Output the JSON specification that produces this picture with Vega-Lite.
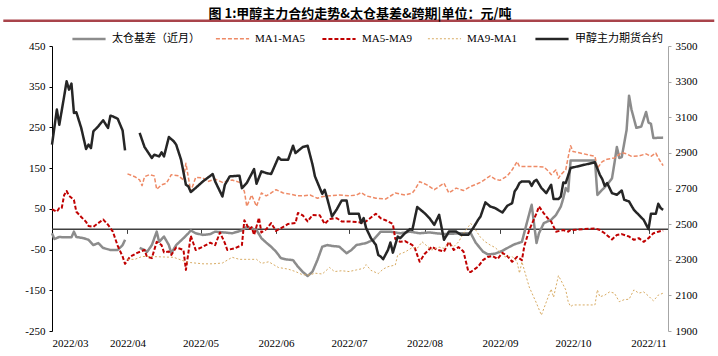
{
"$schema": "https://vega.github.io/schema/vega-lite/v6.json",
"width": 616, "height": 285,
"autosize": {"type": "none"},
"padding": {"left": 52, "top": 46, "right": 50, "bottom": 25},
"background": "white",
"title": {"text": "图 1:甲醇主力合约走势&太仓基差&跨期|单位：元/吨", "font": "Noto Sans CJK SC", "fontSize": 13, "fontWeight": "bold", "color": "#000000", "anchor": "middle", "offset": -1},
"config": {"view": {"stroke": null}, "font": "Liberation Serif, Noto Sans CJK SC",
  "axis": {"labelFont": "Liberation Serif, Noto Sans CJK SC", "labelFontSize": 11, "labelColor": "#000000", "grid": false, "title": null},
  "legend": {"labelFont": "Liberation Serif, Noto Sans CJK SC", "labelFontSize": 11, "labelColor": "#000000"}},
"datasets": {
"futures": [
{"date":"2022-03-01","series":"甲醇主力期货合约","value":2946},{"date":"2022-03-03","series":"甲醇主力期货合约","value":3143},{"date":"2022-03-04","series":"甲醇主力期货合约","value":3058},{"date":"2022-03-06","series":"甲醇主力期货合约","value":3218},{"date":"2022-03-07","series":"甲醇主力期货合约","value":3302},{"date":"2022-03-08","series":"甲醇主力期货合约","value":3255},{"date":"2022-03-09","series":"甲醇主力期货合约","value":3289},{"date":"2022-03-10","series":"甲醇主力期货合约","value":3124},{"date":"2022-03-11","series":"甲醇主力期货合约","value":3128},{"date":"2022-03-13","series":"甲醇主力期货合约","value":3040},{"date":"2022-03-15","series":"甲醇主力期货合约","value":2922},{"date":"2022-03-16","series":"甲醇主力期货合约","value":2946},{"date":"2022-03-17","series":"甲醇主力期货合约","value":2927},{"date":"2022-03-18","series":"甲醇主力期货合约","value":3021},{"date":"2022-03-20","series":"甲醇主力期货合约","value":3049},{"date":"2022-03-22","series":"甲醇主力期货合约","value":3083},{"date":"2022-03-24","series":"甲醇主力期货合约","value":3040},{"date":"2022-03-25","series":"甲醇主力期货合约","value":3109},{"date":"2022-03-26","series":"甲醇主力期货合约","value":3105},{"date":"2022-03-28","series":"甲醇主力期货合约","value":3091},{"date":"2022-03-30","series":"甲醇主力期货合约","value":3026},{"date":"2022-03-31","series":"甲醇主力期货合约","value":2914},{"date":"2022-04-03","series":"甲醇主力期货合约","value":null},
{"date":"2022-04-06","series":"甲醇主力期货合约","value":3012},{"date":"2022-04-08","series":"甲醇主力期货合约","value":2933},{"date":"2022-04-11","series":"甲醇主力期货合约","value":2871},{"date":"2022-04-12","series":"甲醇主力期货合约","value":2890},{"date":"2022-04-14","series":"甲醇主力期货合约","value":2880},{"date":"2022-04-15","series":"甲醇主力期货合约","value":2903},{"date":"2022-04-16","series":"甲醇主力期货合约","value":2880},{"date":"2022-04-18","series":"甲醇主力期货合约","value":2989},{"date":"2022-04-20","series":"甲醇主力期货合约","value":2965},{"date":"2022-04-21","series":"甲醇主力期货合约","value":2946},{"date":"2022-04-23","series":"甲醇主力期货合约","value":2862},{"date":"2022-04-25","series":"甲醇主力期货合约","value":2721},{"date":"2022-04-26","series":"甲醇主力期货合约","value":2712},{"date":"2022-04-27","series":"甲醇主力期货合约","value":2680},{"date":"2022-04-29","series":"甲醇主力期货合约","value":2703},{"date":"2022-05-02","series":"甲醇主力期货合约","value":2740},{"date":"2022-05-06","series":"甲醇主力期货合约","value":2781},{"date":"2022-05-07","series":"甲醇主力期货合约","value":2740},{"date":"2022-05-10","series":"甲醇主力期货合约","value":2655},{"date":"2022-05-11","series":"甲醇主力期货合约","value":2721},{"date":"2022-05-13","series":"甲醇主力期货合约","value":2768},{"date":"2022-05-17","series":"甲醇主力期货合约","value":2772},{"date":"2022-05-18","series":"甲醇主力期货合约","value":2702},{"date":"2022-05-20","series":"甲醇主力期货合约","value":2731},{"date":"2022-05-23","series":"甲醇主力期货合约","value":2809},{"date":"2022-05-24","series":"甲醇主力期货合约","value":2727},{"date":"2022-05-26","series":"甲醇主力期货合约","value":2796},{"date":"2022-05-28","series":"甲醇主力期货合约","value":2787},{"date":"2022-05-30","series":"甲醇主力期货合约","value":2781},{"date":"2022-06-02","series":"甲醇主力期货合约","value":2875},{"date":"2022-06-03","series":"甲醇主力期货合约","value":2862},{"date":"2022-06-06","series":"甲醇主力期货合约","value":2862},{"date":"2022-06-08","series":"甲醇主力期货合约","value":2940},{"date":"2022-06-09","series":"甲醇主力期货合约","value":2899},{"date":"2022-06-12","series":"甲醇主力期货合约","value":2933},{"date":"2022-06-14","series":"甲醇主力期货合约","value":2940},{"date":"2022-06-16","series":"甲醇主力期货合约","value":2834},{"date":"2022-06-17","series":"甲醇主力期货合约","value":2768},{"date":"2022-06-19","series":"甲醇主力期货合约","value":2702},{"date":"2022-06-20","series":"甲醇主力期货合约","value":2670},{"date":"2022-06-21","series":"甲醇主力期货合约","value":2693},{"date":"2022-06-22","series":"甲醇主力期货合约","value":2646},{"date":"2022-06-24","series":"甲醇主力期货合约","value":2543},{"date":"2022-06-26","series":"甲醇主力期货合约","value":2584},{"date":"2022-06-28","series":"甲醇主力期货合约","value":2633},{"date":"2022-06-30","series":"甲醇主力期货合约","value":2633},{"date":"2022-07-01","series":"甲醇主力期货合约","value":2558},{"date":"2022-07-05","series":"甲醇主力期货合约","value":2558},{"date":"2022-07-06","series":"甲醇主力期货合约","value":2506},{"date":"2022-07-07","series":"甲醇主力期货合约","value":2534},{"date":"2022-07-08","series":"甲醇主力期货合约","value":2478},{"date":"2022-07-10","series":"甲醇主力期货合约","value":2421},{"date":"2022-07-12","series":"甲醇主力期货合约","value":2384},{"date":"2022-07-13","series":"甲醇主力期货合约","value":2327},{"date":"2022-07-14","series":"甲醇主力期货合约","value":2318},{"date":"2022-07-15","series":"甲醇主力期货合约","value":2303},{"date":"2022-07-17","series":"甲醇主力期货合约","value":2355},{"date":"2022-07-18","series":"甲醇主力期货合约","value":2397},{"date":"2022-07-19","series":"甲醇主力期货合约","value":2340},{"date":"2022-07-21","series":"甲醇主力期货合约","value":2430},{"date":"2022-07-22","series":"甲醇主力期货合约","value":2421},{"date":"2022-07-24","series":"甲醇主力期货合约","value":2449},{"date":"2022-07-26","series":"甲醇主力期货合约","value":2472},{"date":"2022-07-27","series":"甲醇主力期货合约","value":2468},{"date":"2022-07-29","series":"甲醇主力期货合约","value":2596},{"date":"2022-08-01","series":"甲醇主力期货合约","value":2562},{"date":"2022-08-03","series":"甲醇主力期货合约","value":2534},{"date":"2022-08-05","series":"甲醇主力期货合约","value":2496},{"date":"2022-08-07","series":"甲醇主力期货合约","value":2552},{"date":"2022-08-09","series":"甲醇主力期货合约","value":2412},{"date":"2022-08-11","series":"甲醇主力期货合约","value":2458},{"date":"2022-08-14","series":"甲醇主力期货合约","value":2458},{"date":"2022-08-16","series":"甲醇主力期货合约","value":2440},{"date":"2022-08-19","series":"甲醇主力期货合约","value":2440},{"date":"2022-08-21","series":"甲醇主力期货合约","value":2478},{"date":"2022-08-23","series":"甲醇主力期货合约","value":2524},{"date":"2022-08-24","series":"甲醇主力期货合约","value":2543},{"date":"2022-08-26","series":"甲醇主力期货合约","value":2622},{"date":"2022-08-28","series":"甲醇主力期货合约","value":2599},{"date":"2022-08-30","series":"甲醇主力期货合约","value":2590},{"date":"2022-09-02","series":"甲醇主力期货合约","value":2565},{"date":"2022-09-04","series":"甲醇主力期货合约","value":2603},{"date":"2022-09-06","series":"甲醇主力期货合约","value":2618},{"date":"2022-09-07","series":"甲醇主力期货合约","value":2683},{"date":"2022-09-08","series":"甲醇主力期货合约","value":2703},{"date":"2022-09-09","series":"甲醇主力期货合约","value":2731},{"date":"2022-09-10","series":"甲醇主力期货合约","value":2740},{"date":"2022-09-13","series":"甲醇主力期货合约","value":2740},{"date":"2022-09-14","series":"甲醇主力期货合约","value":2715},{"date":"2022-09-15","series":"甲醇主力期货合约","value":2740},{"date":"2022-09-16","series":"甲醇主力期货合约","value":2749},{"date":"2022-09-18","series":"甲醇主力期货合约","value":2703},{"date":"2022-09-20","series":"甲醇主力期货合约","value":2674},{"date":"2022-09-22","series":"甲醇主力期货合约","value":2721},{"date":"2022-09-23","series":"甲醇主力期货合约","value":2641},{"date":"2022-09-25","series":"甲醇主力期货合约","value":2641},{"date":"2022-09-26","series":"甲醇主力期货合约","value":2655},{"date":"2022-09-27","series":"甲醇主力期货合约","value":2734},{"date":"2022-09-28","series":"甲醇主力期货合约","value":2731},{"date":"2022-09-30","series":"甲醇主力期货合约","value":2815},{"date":"2022-10-10","series":"甲醇主力期货合约","value":2847},{"date":"2022-10-12","series":"甲醇主力期货合约","value":2777},{"date":"2022-10-13","series":"甲醇主力期货合约","value":2753},{"date":"2022-10-14","series":"甲醇主力期货合约","value":2715},{"date":"2022-10-15","series":"甲醇主力期货合约","value":2731},{"date":"2022-10-17","series":"甲醇主力期货合约","value":2674},{"date":"2022-10-19","series":"甲醇主力期货合约","value":2665},{"date":"2022-10-21","series":"甲醇主力期货合约","value":2689},{"date":"2022-10-22","series":"甲醇主力期货合约","value":2637},{"date":"2022-10-24","series":"甲醇主力期货合约","value":2627},{"date":"2022-10-26","series":"甲醇主力期货合约","value":2580},{"date":"2022-10-28","series":"甲醇主力期货合约","value":2552},{"date":"2022-10-30","series":"甲醇主力期货合约","value":2524},{"date":"2022-11-01","series":"甲醇主力期货合约","value":2472},{"date":"2022-11-02","series":"甲醇主力期货合约","value":2558},{"date":"2022-11-04","series":"甲醇主力期货合约","value":2558},{"date":"2022-11-05","series":"甲醇主力期货合约","value":2614},{"date":"2022-11-06","series":"甲醇主力期货合约","value":2590},{"date":"2022-11-07","series":"甲醇主力期货合约","value":2580}
],
"spreads": [
{"date":"2022-03-01","series":"太仓基差（近月）","value":-10},{"date":"2022-03-02","series":"太仓基差（近月）","value":-24},{"date":"2022-03-04","series":"太仓基差（近月）","value":-19},{"date":"2022-03-06","series":"太仓基差（近月）","value":-20},{"date":"2022-03-09","series":"太仓基差（近月）","value":-20},{"date":"2022-03-10","series":"太仓基差（近月）","value":-6},{"date":"2022-03-11","series":"太仓基差（近月）","value":-19},{"date":"2022-03-14","series":"太仓基差（近月）","value":-22},{"date":"2022-03-16","series":"太仓基差（近月）","value":-26},{"date":"2022-03-18","series":"太仓基差（近月）","value":-39},{"date":"2022-03-20","series":"太仓基差（近月）","value":-34},{"date":"2022-03-22","series":"太仓基差（近月）","value":-46},{"date":"2022-03-25","series":"太仓基差（近月）","value":-51},{"date":"2022-03-28","series":"太仓基差（近月）","value":-51},{"date":"2022-03-30","series":"太仓基差（近月）","value":-39},{"date":"2022-03-31","series":"太仓基差（近月）","value":-26},{"date":"2022-04-03","series":"太仓基差（近月）","value":null},
{"date":"2022-04-06","series":"太仓基差（近月）","value":-46},{"date":"2022-04-08","series":"太仓基差（近月）","value":-51},{"date":"2022-04-09","series":"太仓基差（近月）","value":-56},{"date":"2022-04-11","series":"太仓基差（近月）","value":-39},{"date":"2022-04-13","series":"太仓基差（近月）","value":-6},{"date":"2022-04-14","series":"太仓基差（近月）","value":-31},{"date":"2022-04-16","series":"太仓基差（近月）","value":-18},{"date":"2022-04-18","series":"太仓基差（近月）","value":-39},{"date":"2022-04-19","series":"太仓基差（近月）","value":-59},{"date":"2022-04-21","series":"太仓基差（近月）","value":-39},{"date":"2022-04-24","series":"太仓基差（近月）","value":-22},{"date":"2022-04-26","series":"太仓基差（近月）","value":-10},{"date":"2022-04-27","series":"太仓基差（近月）","value":-3},{"date":"2022-04-29","series":"太仓基差（近月）","value":-10},{"date":"2022-05-02","series":"太仓基差（近月）","value":-14},{"date":"2022-05-05","series":"太仓基差（近月）","value":-12},{"date":"2022-05-07","series":"太仓基差（近月）","value":-6},{"date":"2022-05-11","series":"太仓基差（近月）","value":-8},{"date":"2022-05-14","series":"太仓基差（近月）","value":-10},{"date":"2022-05-18","series":"太仓基差（近月）","value":-3},{"date":"2022-05-20","series":"太仓基差（近月）","value":6},{"date":"2022-05-22","series":"太仓基差（近月）","value":2},{"date":"2022-05-24","series":"太仓基差（近月）","value":-2},{"date":"2022-05-26","series":"太仓基差（近月）","value":-22},{"date":"2022-05-28","series":"太仓基差（近月）","value":-33},{"date":"2022-05-30","series":"太仓基差（近月）","value":-43},{"date":"2022-06-01","series":"太仓基差（近月）","value":-55},{"date":"2022-06-03","series":"太仓基差（近月）","value":-71},{"date":"2022-06-05","series":"太仓基差（近月）","value":-74},{"date":"2022-06-08","series":"太仓基差（近月）","value":-76},{"date":"2022-06-10","series":"太仓基差（近月）","value":-92},{"date":"2022-06-12","series":"太仓基差（近月）","value":-105},{"date":"2022-06-14","series":"太仓基差（近月）","value":-115},{"date":"2022-06-16","series":"太仓基差（近月）","value":-104},{"date":"2022-06-18","series":"太仓基差（近月）","value":-76},{"date":"2022-06-20","series":"太仓基差（近月）","value":-43},{"date":"2022-06-22","series":"太仓基差（近月）","value":-39},{"date":"2022-06-24","series":"太仓基差（近月）","value":-41},{"date":"2022-06-27","series":"太仓基差（近月）","value":-43},{"date":"2022-06-30","series":"太仓基差（近月）","value":-59},{"date":"2022-07-02","series":"太仓基差（近月）","value":-51},{"date":"2022-07-04","series":"太仓基差（近月）","value":-39},{"date":"2022-07-08","series":"太仓基差（近月）","value":-34},{"date":"2022-07-11","series":"太仓基差（近月）","value":-26},{"date":"2022-07-14","series":"太仓基差（近月）","value":-6},{"date":"2022-07-18","series":"太仓基差（近月）","value":-6},{"date":"2022-07-22","series":"太仓基差（近月）","value":-10},{"date":"2022-07-26","series":"太仓基差（近月）","value":-6},{"date":"2022-07-30","series":"太仓基差（近月）","value":-10},{"date":"2022-08-03","series":"太仓基差（近月）","value":-8},{"date":"2022-08-09","series":"太仓基差（近月）","value":-12},{"date":"2022-08-16","series":"太仓基差（近月）","value":-10},{"date":"2022-08-20","series":"太仓基差（近月）","value":-10},{"date":"2022-08-22","series":"太仓基差（近月）","value":-33},{"date":"2022-08-25","series":"太仓基差（近月）","value":-55},{"date":"2022-08-27","series":"太仓基差（近月）","value":-62},{"date":"2022-08-30","series":"太仓基差（近月）","value":-60},{"date":"2022-09-02","series":"太仓基差（近月）","value":-53},{"date":"2022-09-05","series":"太仓基差（近月）","value":-43},{"date":"2022-09-07","series":"太仓基差（近月）","value":-37},{"date":"2022-09-10","series":"太仓基差（近月）","value":-31},{"date":"2022-09-12","series":"太仓基差（近月）","value":15},{"date":"2022-09-14","series":"太仓基差（近月）","value":60},{"date":"2022-09-16","series":"太仓基差（近月）","value":-34},{"date":"2022-09-17","series":"太仓基差（近月）","value":-10},{"date":"2022-09-19","series":"太仓基差（近月）","value":15},{"date":"2022-09-22","series":"太仓基差（近月）","value":23},{"date":"2022-09-24","series":"太仓基差（近月）","value":35},{"date":"2022-09-26","series":"太仓基差（近月）","value":56},{"date":"2022-09-27","series":"太仓基差（近月）","value":76},{"date":"2022-09-28","series":"太仓基差（近月）","value":101},{"date":"2022-09-29","series":"太仓基差（近月）","value":93},{"date":"2022-09-30","series":"太仓基差（近月）","value":169},{"date":"2022-10-10","series":"太仓基差（近月）","value":169},{"date":"2022-10-11","series":"太仓基差（近月）","value":84},{"date":"2022-10-13","series":"太仓基差（近月）","value":97},{"date":"2022-10-15","series":"太仓基差（近月）","value":109},{"date":"2022-10-17","series":"太仓基差（近月）","value":125},{"date":"2022-10-18","series":"太仓基差（近月）","value":162},{"date":"2022-10-19","series":"太仓基差（近月）","value":202},{"date":"2022-10-20","series":"太仓基差（近月）","value":175},{"date":"2022-10-21","series":"太仓基差（近月）","value":177},{"date":"2022-10-23","series":"太仓基差（近月）","value":244},{"date":"2022-10-24","series":"太仓基差（近月）","value":328},{"date":"2022-10-25","series":"太仓基差（近月）","value":294},{"date":"2022-10-27","series":"太仓基差（近月）","value":249},{"date":"2022-10-29","series":"太仓基差（近月）","value":252},{"date":"2022-10-31","series":"太仓基差（近月）","value":288},{"date":"2022-11-01","series":"太仓基差（近月）","value":262},{"date":"2022-11-02","series":"太仓基差（近月）","value":259},{"date":"2022-11-03","series":"太仓基差（近月）","value":224},{"date":"2022-11-07","series":"太仓基差（近月）","value":225},
{"date":"2022-04-01","series":"MA1-MA5","value":136},{"date":"2022-04-04","series":"MA1-MA5","value":129},{"date":"2022-04-06","series":"MA1-MA5","value":121},{"date":"2022-04-07","series":"MA1-MA5","value":107},{"date":"2022-04-08","series":"MA1-MA5","value":129},{"date":"2022-04-10","series":"MA1-MA5","value":134},{"date":"2022-04-12","series":"MA1-MA5","value":131},{"date":"2022-04-13","series":"MA1-MA5","value":98},{"date":"2022-04-15","series":"MA1-MA5","value":109},{"date":"2022-04-17","series":"MA1-MA5","value":113},{"date":"2022-04-19","series":"MA1-MA5","value":134},{"date":"2022-04-22","series":"MA1-MA5","value":131},{"date":"2022-04-24","series":"MA1-MA5","value":121},{"date":"2022-04-25","series":"MA1-MA5","value":162},{"date":"2022-04-27","series":"MA1-MA5","value":93},{"date":"2022-04-29","series":"MA1-MA5","value":127},{"date":"2022-05-02","series":"MA1-MA5","value":126},{"date":"2022-05-04","series":"MA1-MA5","value":117},{"date":"2022-05-07","series":"MA1-MA5","value":123},{"date":"2022-05-10","series":"MA1-MA5","value":115},{"date":"2022-05-14","series":"MA1-MA5","value":121},{"date":"2022-05-17","series":"MA1-MA5","value":115},{"date":"2022-05-19","series":"MA1-MA5","value":93},{"date":"2022-05-20","series":"MA1-MA5","value":56},{"date":"2022-05-22","series":"MA1-MA5","value":84},{"date":"2022-05-24","series":"MA1-MA5","value":56},{"date":"2022-05-26","series":"MA1-MA5","value":89},{"date":"2022-05-28","series":"MA1-MA5","value":82},{"date":"2022-05-30","series":"MA1-MA5","value":89},{"date":"2022-06-01","series":"MA1-MA5","value":97},{"date":"2022-06-04","series":"MA1-MA5","value":89},{"date":"2022-06-07","series":"MA1-MA5","value":86},{"date":"2022-06-10","series":"MA1-MA5","value":82},{"date":"2022-06-12","series":"MA1-MA5","value":82},{"date":"2022-06-15","series":"MA1-MA5","value":84},{"date":"2022-06-18","series":"MA1-MA5","value":76},{"date":"2022-06-20","series":"MA1-MA5","value":80},{"date":"2022-06-23","series":"MA1-MA5","value":82},{"date":"2022-06-27","series":"MA1-MA5","value":84},{"date":"2022-07-01","series":"MA1-MA5","value":82},{"date":"2022-07-04","series":"MA1-MA5","value":84},{"date":"2022-07-06","series":"MA1-MA5","value":90},{"date":"2022-07-08","series":"MA1-MA5","value":82},{"date":"2022-07-12","series":"MA1-MA5","value":76},{"date":"2022-07-16","series":"MA1-MA5","value":74},{"date":"2022-07-20","series":"MA1-MA5","value":89},{"date":"2022-07-24","series":"MA1-MA5","value":84},{"date":"2022-07-27","series":"MA1-MA5","value":89},{"date":"2022-07-28","series":"MA1-MA5","value":97},{"date":"2022-07-30","series":"MA1-MA5","value":117},{"date":"2022-08-02","series":"MA1-MA5","value":109},{"date":"2022-08-05","series":"MA1-MA5","value":97},{"date":"2022-08-07","series":"MA1-MA5","value":105},{"date":"2022-08-09","series":"MA1-MA5","value":113},{"date":"2022-08-11","series":"MA1-MA5","value":89},{"date":"2022-08-14","series":"MA1-MA5","value":101},{"date":"2022-08-17","series":"MA1-MA5","value":95},{"date":"2022-08-20","series":"MA1-MA5","value":105},{"date":"2022-08-24","series":"MA1-MA5","value":115},{"date":"2022-08-28","series":"MA1-MA5","value":131},{"date":"2022-08-30","series":"MA1-MA5","value":123},{"date":"2022-09-01","series":"MA1-MA5","value":120},{"date":"2022-09-04","series":"MA1-MA5","value":131},{"date":"2022-09-06","series":"MA1-MA5","value":146},{"date":"2022-09-08","series":"MA1-MA5","value":166},{"date":"2022-09-09","series":"MA1-MA5","value":154},{"date":"2022-09-12","series":"MA1-MA5","value":154},{"date":"2022-09-16","series":"MA1-MA5","value":154},{"date":"2022-09-19","series":"MA1-MA5","value":153},{"date":"2022-09-21","series":"MA1-MA5","value":142},{"date":"2022-09-22","series":"MA1-MA5","value":134},{"date":"2022-09-24","series":"MA1-MA5","value":146},{"date":"2022-09-25","series":"MA1-MA5","value":125},{"date":"2022-09-26","series":"MA1-MA5","value":134},{"date":"2022-09-28","series":"MA1-MA5","value":146},{"date":"2022-09-29","series":"MA1-MA5","value":177},{"date":"2022-09-30","series":"MA1-MA5","value":205},{"date":"2022-10-01","series":"MA1-MA5","value":191},{"date":"2022-10-10","series":"MA1-MA5","value":179},{"date":"2022-10-11","series":"MA1-MA5","value":150},{"date":"2022-10-13","series":"MA1-MA5","value":166},{"date":"2022-10-15","series":"MA1-MA5","value":172},{"date":"2022-10-18","series":"MA1-MA5","value":175},{"date":"2022-10-21","series":"MA1-MA5","value":188},{"date":"2022-10-23","series":"MA1-MA5","value":185},{"date":"2022-10-25","series":"MA1-MA5","value":179},{"date":"2022-10-28","series":"MA1-MA5","value":180},{"date":"2022-10-31","series":"MA1-MA5","value":185},{"date":"2022-11-02","series":"MA1-MA5","value":179},{"date":"2022-11-04","series":"MA1-MA5","value":187},{"date":"2022-11-05","series":"MA1-MA5","value":175},{"date":"2022-11-07","series":"MA1-MA5","value":156},
{"date":"2022-03-01","series":"MA5-MA9","value":49},{"date":"2022-03-03","series":"MA5-MA9","value":43},{"date":"2022-03-04","series":"MA5-MA9","value":52},{"date":"2022-03-05","series":"MA5-MA9","value":52},{"date":"2022-03-06","series":"MA5-MA9","value":84},{"date":"2022-03-07","series":"MA5-MA9","value":94},{"date":"2022-03-08","series":"MA5-MA9","value":82},{"date":"2022-03-10","series":"MA5-MA9","value":72},{"date":"2022-03-11","series":"MA5-MA9","value":43},{"date":"2022-03-13","series":"MA5-MA9","value":30},{"date":"2022-03-15","series":"MA5-MA9","value":18},{"date":"2022-03-16","series":"MA5-MA9","value":8},{"date":"2022-03-18","series":"MA5-MA9","value":6},{"date":"2022-03-20","series":"MA5-MA9","value":15},{"date":"2022-03-22","series":"MA5-MA9","value":24},{"date":"2022-03-24","series":"MA5-MA9","value":11},{"date":"2022-03-26","series":"MA5-MA9","value":-6},{"date":"2022-03-28","series":"MA5-MA9","value":-41},{"date":"2022-03-30","series":"MA5-MA9","value":-67},{"date":"2022-03-31","series":"MA5-MA9","value":-85},{"date":"2022-04-02","series":"MA5-MA9","value":-68},{"date":"2022-04-05","series":"MA5-MA9","value":-58},{"date":"2022-04-08","series":"MA5-MA9","value":-51},{"date":"2022-04-09","series":"MA5-MA9","value":-68},{"date":"2022-04-11","series":"MA5-MA9","value":-71},{"date":"2022-04-13","series":"MA5-MA9","value":-31},{"date":"2022-04-15","series":"MA5-MA9","value":-39},{"date":"2022-04-16","series":"MA5-MA9","value":-57},{"date":"2022-04-18","series":"MA5-MA9","value":-55},{"date":"2022-04-19","series":"MA5-MA9","value":-63},{"date":"2022-04-21","series":"MA5-MA9","value":-45},{"date":"2022-04-24","series":"MA5-MA9","value":-51},{"date":"2022-04-25","series":"MA5-MA9","value":-100},{"date":"2022-04-27","series":"MA5-MA9","value":-16},{"date":"2022-04-29","series":"MA5-MA9","value":-51},{"date":"2022-05-02","series":"MA5-MA9","value":-43},{"date":"2022-05-05","series":"MA5-MA9","value":-33},{"date":"2022-05-07","series":"MA5-MA9","value":-39},{"date":"2022-05-09","series":"MA5-MA9","value":-8},{"date":"2022-05-11","series":"MA5-MA9","value":-34},{"date":"2022-05-12","series":"MA5-MA9","value":-51},{"date":"2022-05-15","series":"MA5-MA9","value":-47},{"date":"2022-05-18","series":"MA5-MA9","value":-39},{"date":"2022-05-19","series":"MA5-MA9","value":22},{"date":"2022-05-21","series":"MA5-MA9","value":0},{"date":"2022-05-22","series":"MA5-MA9","value":5},{"date":"2022-05-23","series":"MA5-MA9","value":-14},{"date":"2022-05-25","series":"MA5-MA9","value":28},{"date":"2022-05-26","series":"MA5-MA9","value":-8},{"date":"2022-05-28","series":"MA5-MA9","value":0},{"date":"2022-05-30","series":"MA5-MA9","value":15},{"date":"2022-06-01","series":"MA5-MA9","value":-4},{"date":"2022-06-04","series":"MA5-MA9","value":6},{"date":"2022-06-06","series":"MA5-MA9","value":13},{"date":"2022-06-09","series":"MA5-MA9","value":15},{"date":"2022-06-10","series":"MA5-MA9","value":40},{"date":"2022-06-12","series":"MA5-MA9","value":34},{"date":"2022-06-14","series":"MA5-MA9","value":19},{"date":"2022-06-16","series":"MA5-MA9","value":35},{"date":"2022-06-19","series":"MA5-MA9","value":34},{"date":"2022-06-21","series":"MA5-MA9","value":13},{"date":"2022-06-23","series":"MA5-MA9","value":25},{"date":"2022-06-26","series":"MA5-MA9","value":27},{"date":"2022-06-28","series":"MA5-MA9","value":19},{"date":"2022-07-01","series":"MA5-MA9","value":19},{"date":"2022-07-05","series":"MA5-MA9","value":17},{"date":"2022-07-07","series":"MA5-MA9","value":15},{"date":"2022-07-09","series":"MA5-MA9","value":24},{"date":"2022-07-12","series":"MA5-MA9","value":38},{"date":"2022-07-14","series":"MA5-MA9","value":27},{"date":"2022-07-16","series":"MA5-MA9","value":22},{"date":"2022-07-19","series":"MA5-MA9","value":13},{"date":"2022-07-20","series":"MA5-MA9","value":-24},{"date":"2022-07-22","series":"MA5-MA9","value":-31},{"date":"2022-07-24","series":"MA5-MA9","value":-29},{"date":"2022-07-27","series":"MA5-MA9","value":-39},{"date":"2022-07-28","series":"MA5-MA9","value":-46},{"date":"2022-07-30","series":"MA5-MA9","value":-80},{"date":"2022-08-01","series":"MA5-MA9","value":-61},{"date":"2022-08-04","series":"MA5-MA9","value":-43},{"date":"2022-08-06","series":"MA5-MA9","value":-50},{"date":"2022-08-09","series":"MA5-MA9","value":-55},{"date":"2022-08-11","series":"MA5-MA9","value":-31},{"date":"2022-08-13","series":"MA5-MA9","value":-51},{"date":"2022-08-15","series":"MA5-MA9","value":-44},{"date":"2022-08-17","series":"MA5-MA9","value":-55},{"date":"2022-08-19","series":"MA5-MA9","value":-104},{"date":"2022-08-20","series":"MA5-MA9","value":-105},{"date":"2022-08-23","series":"MA5-MA9","value":-92},{"date":"2022-08-25","series":"MA5-MA9","value":-76},{"date":"2022-08-27","series":"MA5-MA9","value":-68},{"date":"2022-08-29","series":"MA5-MA9","value":-66},{"date":"2022-08-31","series":"MA5-MA9","value":-73},{"date":"2022-09-02","series":"MA5-MA9","value":-58},{"date":"2022-09-04","series":"MA5-MA9","value":-66},{"date":"2022-09-06","series":"MA5-MA9","value":-80},{"date":"2022-09-08","series":"MA5-MA9","value":-68},{"date":"2022-09-10","series":"MA5-MA9","value":-76},{"date":"2022-09-11","series":"MA5-MA9","value":-41},{"date":"2022-09-13","series":"MA5-MA9","value":-2},{"date":"2022-09-16","series":"MA5-MA9","value":39},{"date":"2022-09-17","series":"MA5-MA9","value":56},{"date":"2022-09-19","series":"MA5-MA9","value":39},{"date":"2022-09-21","series":"MA5-MA9","value":24},{"date":"2022-09-22","series":"MA5-MA9","value":19},{"date":"2022-09-24","series":"MA5-MA9","value":-6},{"date":"2022-09-27","series":"MA5-MA9","value":-2},{"date":"2022-09-29","series":"MA5-MA9","value":-6},{"date":"2022-09-30","series":"MA5-MA9","value":-2},{"date":"2022-10-10","series":"MA5-MA9","value":2},{"date":"2022-10-12","series":"MA5-MA9","value":-2},{"date":"2022-10-14","series":"MA5-MA9","value":-10},{"date":"2022-10-17","series":"MA5-MA9","value":-25},{"date":"2022-10-19","series":"MA5-MA9","value":-14},{"date":"2022-10-21","series":"MA5-MA9","value":-12},{"date":"2022-10-24","series":"MA5-MA9","value":-18},{"date":"2022-10-26","series":"MA5-MA9","value":-26},{"date":"2022-10-28","series":"MA5-MA9","value":-22},{"date":"2022-10-30","series":"MA5-MA9","value":-31},{"date":"2022-11-01","series":"MA5-MA9","value":-22},{"date":"2022-11-03","series":"MA5-MA9","value":-10},{"date":"2022-11-05","series":"MA5-MA9","value":-6},{"date":"2022-11-07","series":"MA5-MA9","value":-3},
{"date":"2022-04-01","series":"MA9-MA1","value":-74},{"date":"2022-04-04","series":"MA9-MA1","value":-74},{"date":"2022-04-07","series":"MA9-MA1","value":-67},{"date":"2022-04-10","series":"MA9-MA1","value":-67},{"date":"2022-04-15","series":"MA9-MA1","value":-68},{"date":"2022-04-20","series":"MA9-MA1","value":-69},{"date":"2022-04-25","series":"MA9-MA1","value":-80},{"date":"2022-04-27","series":"MA9-MA1","value":-82},{"date":"2022-05-02","series":"MA9-MA1","value":-85},{"date":"2022-05-06","series":"MA9-MA1","value":-85},{"date":"2022-05-10","series":"MA9-MA1","value":-83},{"date":"2022-05-14","series":"MA9-MA1","value":-69},{"date":"2022-05-17","series":"MA9-MA1","value":-74},{"date":"2022-05-21","series":"MA9-MA1","value":-74},{"date":"2022-05-24","series":"MA9-MA1","value":-74},{"date":"2022-05-26","series":"MA9-MA1","value":-84},{"date":"2022-05-29","series":"MA9-MA1","value":-80},{"date":"2022-05-31","series":"MA9-MA1","value":-87},{"date":"2022-06-02","series":"MA9-MA1","value":-94},{"date":"2022-06-06","series":"MA9-MA1","value":-98},{"date":"2022-06-09","series":"MA9-MA1","value":-104},{"date":"2022-06-12","series":"MA9-MA1","value":-112},{"date":"2022-06-15","series":"MA9-MA1","value":-112},{"date":"2022-06-17","series":"MA9-MA1","value":-108},{"date":"2022-06-20","series":"MA9-MA1","value":-110},{"date":"2022-06-23","series":"MA9-MA1","value":-94},{"date":"2022-06-25","series":"MA9-MA1","value":-104},{"date":"2022-06-28","series":"MA9-MA1","value":-102},{"date":"2022-07-01","series":"MA9-MA1","value":-104},{"date":"2022-07-04","series":"MA9-MA1","value":-100},{"date":"2022-07-07","series":"MA9-MA1","value":-96},{"date":"2022-07-08","series":"MA9-MA1","value":-87},{"date":"2022-07-10","series":"MA9-MA1","value":-101},{"date":"2022-07-13","series":"MA9-MA1","value":-109},{"date":"2022-07-15","series":"MA9-MA1","value":-98},{"date":"2022-07-17","series":"MA9-MA1","value":-92},{"date":"2022-07-20","series":"MA9-MA1","value":-88},{"date":"2022-07-21","series":"MA9-MA1","value":-63},{"date":"2022-07-24","series":"MA9-MA1","value":-56},{"date":"2022-07-27","series":"MA9-MA1","value":-45},{"date":"2022-07-29","series":"MA9-MA1","value":-47},{"date":"2022-07-31","series":"MA9-MA1","value":-31},{"date":"2022-08-02","series":"MA9-MA1","value":-41},{"date":"2022-08-04","series":"MA9-MA1","value":-51},{"date":"2022-08-07","series":"MA9-MA1","value":-44},{"date":"2022-08-09","series":"MA9-MA1","value":-47},{"date":"2022-08-11","series":"MA9-MA1","value":-33},{"date":"2022-08-13","series":"MA9-MA1","value":-43},{"date":"2022-08-15","series":"MA9-MA1","value":-31},{"date":"2022-08-17","series":"MA9-MA1","value":-10},{"date":"2022-08-19","series":"MA9-MA1","value":6},{"date":"2022-08-20","series":"MA9-MA1","value":14},{"date":"2022-08-22","series":"MA9-MA1","value":-2},{"date":"2022-08-24","series":"MA9-MA1","value":-20},{"date":"2022-08-26","series":"MA9-MA1","value":-31},{"date":"2022-08-28","series":"MA9-MA1","value":-39},{"date":"2022-08-30","series":"MA9-MA1","value":-45},{"date":"2022-09-01","series":"MA9-MA1","value":-56},{"date":"2022-09-03","series":"MA9-MA1","value":-68},{"date":"2022-09-05","series":"MA9-MA1","value":-67},{"date":"2022-09-06","series":"MA9-MA1","value":-67},{"date":"2022-09-08","series":"MA9-MA1","value":-80},{"date":"2022-09-09","series":"MA9-MA1","value":-108},{"date":"2022-09-10","series":"MA9-MA1","value":-80},{"date":"2022-09-13","series":"MA9-MA1","value":-142},{"date":"2022-09-16","series":"MA9-MA1","value":-182},{"date":"2022-09-18","series":"MA9-MA1","value":-211},{"date":"2022-09-20","series":"MA9-MA1","value":-179},{"date":"2022-09-22","series":"MA9-MA1","value":-147},{"date":"2022-09-23","series":"MA9-MA1","value":-167},{"date":"2022-09-25","series":"MA9-MA1","value":-114},{"date":"2022-09-26","series":"MA9-MA1","value":-125},{"date":"2022-09-28","series":"MA9-MA1","value":-149},{"date":"2022-09-29","series":"MA9-MA1","value":-178},{"date":"2022-09-30","series":"MA9-MA1","value":-190},{"date":"2022-10-01","series":"MA9-MA1","value":-186},{"date":"2022-10-10","series":"MA9-MA1","value":-186},{"date":"2022-10-11","series":"MA9-MA1","value":-149},{"date":"2022-10-12","series":"MA9-MA1","value":-166},{"date":"2022-10-14","series":"MA9-MA1","value":-162},{"date":"2022-10-16","series":"MA9-MA1","value":-154},{"date":"2022-10-18","series":"MA9-MA1","value":-157},{"date":"2022-10-20","series":"MA9-MA1","value":-178},{"date":"2022-10-22","series":"MA9-MA1","value":-173},{"date":"2022-10-24","series":"MA9-MA1","value":-172},{"date":"2022-10-26","series":"MA9-MA1","value":-149},{"date":"2022-10-28","series":"MA9-MA1","value":-157},{"date":"2022-10-30","series":"MA9-MA1","value":-154},{"date":"2022-11-01","series":"MA9-MA1","value":-164},{"date":"2022-11-03","series":"MA9-MA1","value":-176},{"date":"2022-11-05","series":"MA9-MA1","value":-162},{"date":"2022-11-07","series":"MA9-MA1","value":-157}
]
},
"layer": [
 {"layer": [
   {"data": {"values": [{}]},
    "mark": {"type": "rule", "color": "#A9444B", "strokeWidth": 2.5},
    "encoding": {
      "x": {"datum": {"year": 2022, "month": 2, "date": 9, "utc": true}, "type": "temporal",
            "scale": {"type": "utc", "domain": [{"year": 2022, "month": 3, "date": 1, "utc": true}, {"year": 2022, "month": 11, "date": 9, "utc": true}]},
            "axis": {"orient": "bottom", "values": [{"year":2022,"month":3,"date":1,"utc":true},{"year":2022,"month":4,"date":1,"utc":true},{"year":2022,"month":5,"date":1,"utc":true},{"year":2022,"month":6,"date":1,"utc":true},{"year":2022,"month":7,"date":1,"utc":true},{"year":2022,"month":8,"date":1,"utc":true},{"year":2022,"month":9,"date":1,"utc":true},{"year":2022,"month":10,"date":1,"utc":true},{"year":2022,"month":11,"date":1,"utc":true}], "labelExpr": "utcFormat(datum.value, '%Y/%m')", "ticks": false, "domain": false, "labelPadding": 6, "title": null}},
      "x2": {"datum": {"year": 2022, "month": 11, "date": 28, "utc": true}},
      "y": {"datum": 512, "type": "quantitative", "scale": {"domain": [-250, 450], "nice": false, "zero": false},
            "axis": {"orient": "left", "values": [-250, -150, -50, 50, 150, 250, 350, 450], "labelExpr": "'' + datum.value", "domainColor": "#000000", "tickColor": "#000000", "tickSize": 3, "labelPadding": 4, "title": null}}
    }},
   {"data": {"values": [{}]},
    "mark": {"type": "rule", "color": "#404040", "strokeWidth": 1.5},
    "encoding": {
      "y": {"datum": 0, "type": "quantitative", "scale": {"domain": [-250, 450], "nice": false, "zero": false},
            "axis": {"orient": "left", "values": [-250, -150, -50, 50, 150, 250, 350, 450], "labelExpr": "'' + datum.value", "domainColor": "#000000", "tickColor": "#000000", "tickSize": 3, "labelPadding": 4, "title": null}}
    }},
   {"data": {"name": "spreads"},
    "mark": {"type": "line", "strokeJoin": "round"},
    "encoding": {
      "x": {"field": "date", "type": "temporal",
            "scale": {"type": "utc", "domain": [{"year": 2022, "month": 3, "date": 1, "utc": true}, {"year": 2022, "month": 11, "date": 9, "utc": true}]},
            "axis": {"orient": "bottom", "values": [{"year":2022,"month":3,"date":1,"utc":true},{"year":2022,"month":4,"date":1,"utc":true},{"year":2022,"month":5,"date":1,"utc":true},{"year":2022,"month":6,"date":1,"utc":true},{"year":2022,"month":7,"date":1,"utc":true},{"year":2022,"month":8,"date":1,"utc":true},{"year":2022,"month":9,"date":1,"utc":true},{"year":2022,"month":10,"date":1,"utc":true},{"year":2022,"month":11,"date":1,"utc":true}], "labelExpr": "utcFormat(datum.value, '%Y/%m')", "ticks": false, "domain": false, "labelPadding": 6, "title": null}},
      "y": {"field": "value", "type": "quantitative", "scale": {"domain": [-250, 450], "nice": false, "zero": false},
            "axis": {"orient": "left", "values": [-250, -150, -50, 50, 150, 250, 350, 450], "labelExpr": "'' + datum.value", "domainColor": "#000000", "tickColor": "#000000", "tickSize": 3, "labelPadding": 4, "title": null}},
      "color": {"field": "series", "type": "nominal",
                "scale": {"domain": ["太仓基差（近月）", "MA1-MA5", "MA5-MA9", "MA9-MA1", "甲醇主力期货合约"], "range": ["#8C8C8C", "#EE8A66", "#C00000", "#D8AB63", "#262626"]},
                "legend": {"title": null, "orient": "none", "legendX": 19, "legendY": -25, "direction": "horizontal", "symbolType": "stroke", "symbolSize": 1100, "columnPadding": 12, "labelOffset": 5}},
      "strokeDash": {"field": "series", "type": "nominal",
                "scale": {"domain": ["太仓基差（近月）", "MA1-MA5", "MA5-MA9", "MA9-MA1", "甲醇主力期货合约"], "range": [[1, 0], [4, 2], [4, 2], [2, 2], [1, 0]]}},
      "strokeWidth": {"field": "series", "type": "nominal",
                "scale": {"type": "ordinal", "domain": ["太仓基差（近月）", "MA1-MA5", "MA5-MA9", "MA9-MA1", "甲醇主力期货合约"], "range": [2.5, 1.5, 2, 1, 2.5]}}
    }}
 ]},
 {"data": {"name": "futures"},
  "mark": {"type": "line", "strokeJoin": "round"},
  "encoding": {
    "x": {"field": "date", "type": "temporal",
          "scale": {"type": "utc", "domain": [{"year": 2022, "month": 3, "date": 1, "utc": true}, {"year": 2022, "month": 11, "date": 9, "utc": true}]},
          "axis": {"orient": "bottom", "offset": -101.6, "values": [{"year":2022,"month":3,"date":1,"utc":true},{"year":2022,"month":4,"date":1,"utc":true},{"year":2022,"month":5,"date":1,"utc":true},{"year":2022,"month":6,"date":1,"utc":true},{"year":2022,"month":7,"date":1,"utc":true},{"year":2022,"month":8,"date":1,"utc":true},{"year":2022,"month":9,"date":1,"utc":true},{"year":2022,"month":10,"date":1,"utc":true},{"year":2022,"month":11,"date":1,"utc":true}], "labels": false, "ticks": true, "tickSize": 4, "tickWidth": 1, "tickColor": "#404040", "domain": false, "title": null}},
    "y": {"field": "value", "type": "quantitative", "scale": {"domain": [1900, 3500], "nice": false, "zero": false},
          "axis": {"orient": "right", "values": [1900, 2100, 2300, 2500, 2700, 2900, 3100, 3300, 3500], "labelExpr": "'' + datum.value", "domainColor": "#A6A6A6", "tickColor": "#A6A6A6", "tickSize": 3, "labelPadding": 4, "title": null}},
    "color": {"field": "series", "type": "nominal",
              "scale": {"domain": ["太仓基差（近月）", "MA1-MA5", "MA5-MA9", "MA9-MA1", "甲醇主力期货合约"], "range": ["#8C8C8C", "#EE8A66", "#C00000", "#D8AB63", "#262626"]},
              "legend": {"title": null, "orient": "none", "legendX": 19, "legendY": -25, "direction": "horizontal", "symbolType": "stroke", "symbolSize": 1100, "columnPadding": 12, "labelOffset": 5}},
    "strokeDash": {"field": "series", "type": "nominal",
              "scale": {"domain": ["太仓基差（近月）", "MA1-MA5", "MA5-MA9", "MA9-MA1", "甲醇主力期货合约"], "range": [[1, 0], [4, 2], [4, 2], [2, 2], [1, 0]]}},
    "strokeWidth": {"field": "series", "type": "nominal",
              "scale": {"type": "ordinal", "domain": ["太仓基差（近月）", "MA1-MA5", "MA5-MA9", "MA9-MA1", "甲醇主力期货合约"], "range": [2.5, 1.5, 2, 1, 2.5]}}
  }}
],
"resolve": {"scale": {"y": "independent"}, "axis": {"x": "independent", "y": "independent"}}
}
